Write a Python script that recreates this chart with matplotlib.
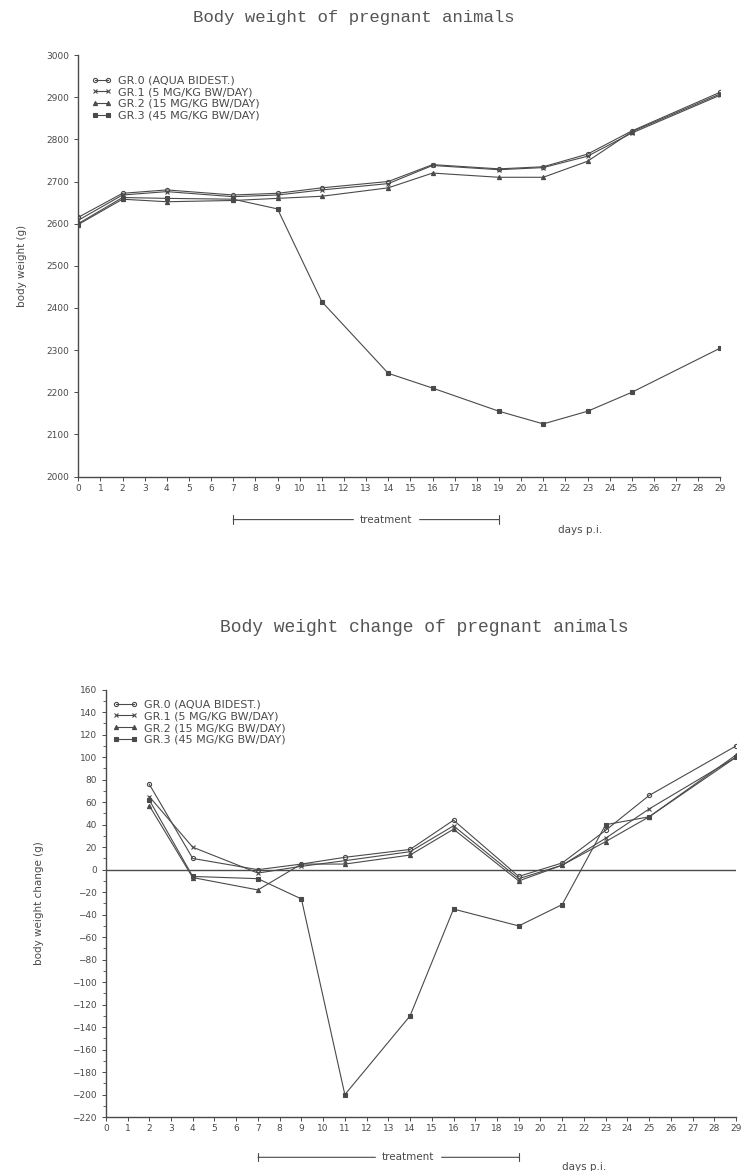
import numpy as np
import matplotlib.pyplot as plt
import matplotlib.transforms as mtransforms
from matplotlib.ticker import MultipleLocator

# days p.i. at which the animals were weighed
days_w = [0, 2, 4, 7, 9, 11, 14, 16, 19, 21, 23, 25, 29]
gr0_w = [2615, 2672, 2680, 2668, 2672, 2685, 2700, 2740, 2730, 2735, 2765, 2820, 2912]
gr1_w = [2608, 2668, 2676, 2664, 2668, 2680, 2695, 2738, 2728, 2733, 2760, 2815, 2905]
gr2_w = [2598, 2658, 2652, 2655, 2660, 2665, 2685, 2720, 2710, 2710, 2748, 2818, 2908]
gr3_w = [2600, 2662, 2660, 2658, 2635, 2415, 2245, 2210, 2155, 2125, 2155, 2200, 2305]

# weight change between weighings
days_c = [2, 4, 7, 9, 11, 14, 16, 19, 21, 23, 25, 29]
gr0_c = [76, 10, 0, 5, 11, 18, 44, -6, 6, 35, 66, 110]
gr1_c = [65, 20, -3, 3, 8, 16, 39, -8, 4, 28, 54, 100]
gr2_c = [57, -7, -18, 5, 5, 13, 36, -10, 4, 25, 47, 102]
gr3_c = [62, -6, -8, -26, -200, -130, -35, -50, -31, 40, 47, 100]

labels = ["GR.0 (AQUA BIDEST.)", "GR.1 (5 MG/KG BW/DAY)",
          "GR.2 (15 MG/KG BW/DAY)", "GR.3 (45 MG/KG BW/DAY)"]
markers = ["o", "x", "^", "s"]
day_ticks = list(range(0, 30))

ink = "#4a4a4a"
mono = "Liberation Mono"

fig = plt.figure(figsize=(7.45, 11.71), dpi=100)


def style_axes(ax):
    ax.spines['top'].set_visible(False)
    ax.spines['right'].set_visible(False)
    for s in ('left', 'bottom'):
        ax.spines[s].set_color(ink)
        ax.spines[s].set_linewidth(1.0)
    ax.set_xlim(0, 29)
    ax.set_xticks(day_ticks)
    ax.tick_params(axis='both', colors=ink, labelsize=6.5, length=3, width=0.7)
    ax.tick_params(axis='x', pad=2)


def treatment_bar(ax, y_bar, x_lab, y_lab):
    trans = mtransforms.blended_transform_factory(ax.transData, ax.transAxes)
    ax.annotate("", xy=(7, y_bar), xytext=(19, y_bar), xycoords=trans, textcoords=trans,
                arrowprops=dict(arrowstyle='|-|', color=ink, lw=0.8,
                                mutation_scale=3, shrinkA=0, shrinkB=0),
                annotation_clip=False)
    ax.text(13.9, y_bar, "treatment", transform=trans, ha='center', va='center',
            fontsize=7.5, color=ink, backgroundcolor='white', clip_on=False)
    ax.text(x_lab, y_lab, "days p.i.", transform=trans, ha='center', va='center',
            fontsize=7.5, color=ink, clip_on=False)


def draw_groups(ax, x, series):
    for y, m, lab in zip(series, markers, labels):
        ax.plot(x, y, color=ink, lw=0.8, marker=m, markersize=3,
                markerfacecolor='none' if m == 'o' else ink,
                markeredgewidth=0.8, label=lab)


# ---- body weight ----
ax1 = fig.add_axes([0.105, 0.593, 0.862, 0.360])
draw_groups(ax1, days_w, [gr0_w, gr1_w, gr2_w, gr3_w])
style_axes(ax1)
ax1.set_ylim(2000, 3000)
ax1.set_yticks(np.arange(2000, 3001, 100))
ax1.set_ylabel("body weight (g)", fontsize=7.5, color=ink, labelpad=14)
ax1.legend(loc='upper left', bbox_to_anchor=(0.005, 0.975), frameon=False, fontsize=8,
           numpoints=2, handlelength=1.8, handletextpad=0.6, labelspacing=0.15,
           labelcolor=ink)
treatment_bar(ax1, -0.102, 22.65, -0.126)
fig.text(0.475, 0.985, "Body weight of pregnant animals", ha='center', va='center',
         fontsize=12.5, color="#555555", family=mono)

# ---- body weight change ----
ax2 = fig.add_axes([0.142, 0.046, 0.846, 0.365])
draw_groups(ax2, days_c, [gr0_c, gr1_c, gr2_c, gr3_c])
ax2.axhline(0, color=ink, lw=1.0)
style_axes(ax2)
ax2.set_ylim(-220, 160)
ax2.set_yticks(np.arange(-220, 161, 20))
ax2.yaxis.set_minor_locator(MultipleLocator(10))
ax2.tick_params(axis='y', which='minor', length=2, width=0.6, colors=ink)
ax2.set_ylabel("body weight change (g)", fontsize=7.5, color=ink, labelpad=20)
ax2.legend(loc='upper left', bbox_to_anchor=(-0.005, 1.0), frameon=False, fontsize=8,
           numpoints=2, handlelength=2.2, handletextpad=0.6, labelspacing=0.15,
           labelcolor=ink)
treatment_bar(ax2, -0.094, 22.0, -0.117)
fig.text(0.57, 0.464, "Body weight change of pregnant animals", ha='center', va='center',
         fontsize=13, color="#555555", family=mono)

fig.savefig("out.png", dpi=100)
